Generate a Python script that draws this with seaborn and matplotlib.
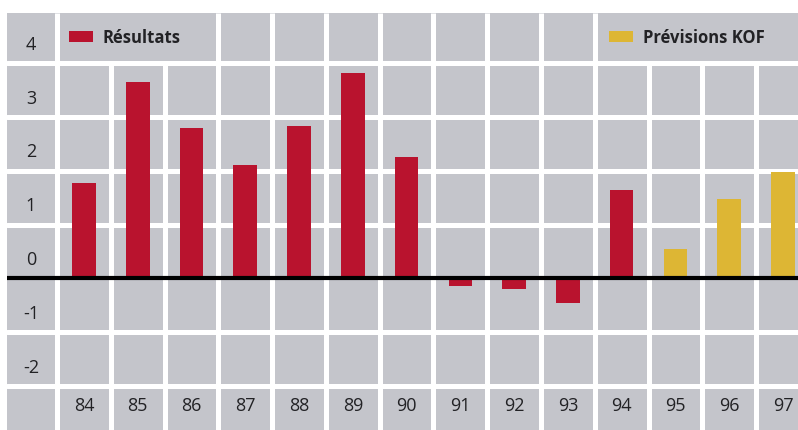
import matplotlib
matplotlib.use("Agg")
import matplotlib.pyplot as plt
from matplotlib.transforms import ScaledTranslation
from matplotlib.font_manager import FontProperties
import seaborn as sns
import pandas as pd

# Annual values, in %
years_results = ["84", "85", "86", "87", "88", "89", "90", "91", "92", "93", "94"]
values_results = [1.77, 3.65, 2.80, 2.10, 2.83, 3.81, 2.26, -0.13, -0.20, -0.45, 1.64]
years_forecast = ["95", "96", "97"]
values_forecast = [0.55, 1.47, 1.98]
series_names = ["Résultats", "Prévisions KOF"]
y_ticks = [-2, -1, 0, 1, 2, 3, 4]

GREY = "#c4c5cb"
RED = "#b9132e"
YELLOW = "#ddb634"
TEXT = "#222225"

df = pd.DataFrame({
    "year": years_results + years_forecast,
    "value": values_results + values_forecast,
    "series": [series_names[0]] * len(years_results) + [series_names[1]] * len(years_forecast),
})
order = years_results + years_forecast

sns.set_theme(style="white")
plt.rcParams["font.family"] = ["Open Sans", "DejaVu Sans"]

W, H, DPI = 798, 430, 100
fig = plt.figure(figsize=(W / DPI, H / DPI), dpi=DPI)
fig.patch.set_facecolor("white")
ax = fig.add_axes([7 / W, 0, (W - 7) / W, (H - 13) / H])
ax.set_facecolor(GREY)

sns.barplot(data=df, x="year", y="value", hue="series", order=order,
            hue_order=series_names, palette=[RED, YELLOW], dodge=False,
            width=0.44, saturation=1, errorbar=None, linewidth=0, ax=ax,
            zorder=2)

# Visible window: a label column at x = -1 and a label row below -2
XMIN, XMAX = -1.433, 13.28
YMIN, YMAX = -2.811, 4.926
ax.set_xlim(XMIN, XMAX)
ax.set_ylim(YMIN, YMAX)

# White cell separators
for v in [-2, -1, 1, 2, 3, 4]:
    ax.axhline(v, color="white", lw=3.6, zorder=1)
full_cols = [-0.5, 2.5, 3.5, 4.5, 5.5, 6.5, 7.5, 8.5, 9.5]
short_cols = [0.5, 1.5, 10.5, 11.5, 12.5]
ax.vlines(full_cols, YMIN, YMAX, color="white", lw=3.6, zorder=1)
ax.vlines(short_cols, YMIN, 4.0, color="white", lw=3.6, zorder=1)

# Baseline
ax.axhline(0, color="black", lw=3.0, zorder=4)

for s in ax.spines.values():
    s.set_visible(False)
ax.set_xlabel("")
ax.set_ylabel("")

ax.set_yticks(y_ticks)
ax.set_yticklabels([str(t) for t in y_ticks])
ax.tick_params(axis="y", length=0, pad=-17.3, labelsize=13, labelcolor=TEXT)
ax.tick_params(axis="x", length=0, pad=-17.3, labelsize=13, labelcolor=TEXT)
for lab in ax.get_yticklabels():
    lab.set_ha("center")
    lab.set_va("center")
    # sit each value label inside the cell above its line
    lab.set_transform(lab.get_transform() + ScaledTranslation(0, 18.3 / DPI, fig.dpi_scale_trans))
for lab in ax.get_xticklabels():
    lab.set_va("center")

# Two separate legend entries in the top row
handles, labels = ax.get_legend_handles_labels()
if ax.get_legend():
    ax.get_legend().remove()
prop = FontProperties(family=["Open Sans", "DejaVu Sans"], weight="bold", size=12)
common = dict(loc="center left", bbox_transform=ax.transData, frameon=False,
              borderpad=0, borderaxespad=0, handlelength=1.44, handleheight=0.66,
              handletextpad=0.6, prop=prop, labelcolor=TEXT)
leg1 = ax.legend(handles=[handles[0]], labels=[labels[0]],
                 bbox_to_anchor=(-0.28, 4.47), **common)
ax.add_artist(leg1)
leg2 = ax.legend(handles=[handles[1]], labels=[labels[1]],
                 bbox_to_anchor=(9.77, 4.47), **common)

fig.savefig("out.png", dpi=DPI)
